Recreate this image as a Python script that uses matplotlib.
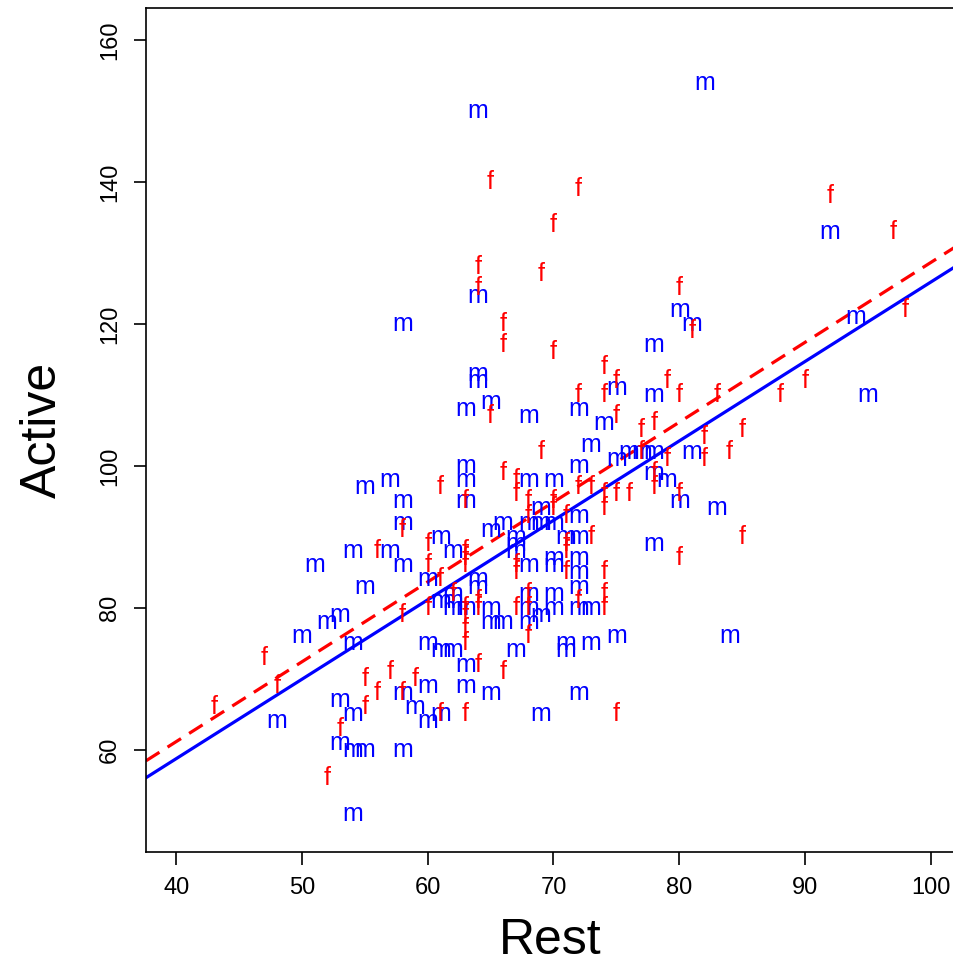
import matplotlib
matplotlib.use("Agg")
import matplotlib.pyplot as plt

plt.rcParams['font.family'] = ['Liberation Sans', 'DejaVu Sans']

# male pulse rates (Rest, Active)
male_rest = [82, 64, 64, 58, 80, 81, 78, 92, 94, 95, 64, 64, 75, 78, 63, 65, 68, 72, 74, 73,
             75, 76, 77, 78, 81, 63, 72, 63, 57, 55, 68, 70, 78, 79, 58, 63, 80, 83, 69, 58,
             61, 66, 65, 68, 69, 70, 72, 67, 67, 67, 71, 72, 70, 72, 72, 78, 62, 54, 57, 51,
             58, 60, 64, 68, 70, 72, 62, 61, 62, 63, 65, 68, 70, 68, 69, 70, 72, 73, 65, 66,
             68, 55, 53, 52, 50, 54, 60, 61, 62, 67, 71, 71, 73, 75, 84, 63, 60, 63, 65, 58,
             72, 59, 60, 61, 69, 53, 54, 48, 53, 54, 55, 58, 54, 64, 62]
male_active = [154, 150, 124, 120, 122, 120, 117, 133, 121, 110, 113, 112, 111, 110, 108, 109, 107, 108, 106, 103,
               101, 102, 102, 102, 102, 100, 100, 98, 98, 97, 98, 98, 99, 98, 95, 95, 95, 94, 94, 92,
               90, 92, 91, 92, 92, 92, 93, 90, 89, 88, 90, 90, 87, 87, 85, 89, 88, 88, 88, 86,
               86, 84, 84, 86, 86, 83, 82, 81, 80, 80, 80, 82, 82, 80, 79, 80, 80, 80, 78, 78,
               78, 83, 79, 78, 76, 75, 75, 74, 74, 74, 75, 74, 75, 76, 76, 72, 69, 69, 68, 68,
               68, 66, 64, 65, 65, 67, 65, 64, 61, 60, 60, 60, 51, 83, 81]

# female pulse rates (Rest, Active)
female_rest = [65, 72, 70, 64, 69, 64, 66, 66, 70, 80, 81, 92, 97, 98, 74, 75, 79, 72, 74, 80,
               83, 88, 90, 65, 75, 78, 77, 85, 82, 69, 77, 79, 82, 84, 66, 67, 78, 78, 80, 72,
               73, 74, 75, 76, 61, 63, 67, 68, 70, 74, 70, 68, 71, 58, 60, 56, 63, 63, 60, 63,
               71, 73, 71, 67, 67, 71, 74, 85, 80, 61, 62, 60, 58, 63, 64, 64, 63, 63, 63, 67,
               68, 68, 68, 72, 74, 74, 64, 66, 57, 59, 58, 61, 63, 75, 47, 48, 43, 55, 56, 55,
               53, 52]
female_active = [140, 139, 134, 128, 127, 125, 120, 117, 116, 125, 119, 138, 133, 122, 114, 112, 112, 110, 110, 110,
                 110, 110, 112, 107, 107, 106, 105, 105, 104, 102, 102, 101, 101, 102, 99, 98, 99, 97, 96, 97,
                 97, 96, 96, 96, 97, 95, 96, 95, 95, 94, 94, 93, 93, 91, 89, 88, 88, 87, 86, 86,
                 89, 90, 88, 86, 85, 85, 85, 90, 87, 84, 82, 80, 79, 80, 81, 80, 79, 77, 75, 80,
                 82, 80, 76, 81, 82, 80, 72, 71, 71, 70, 68, 65, 65, 65, 73, 69, 66, 70, 68, 66,
                 63, 56]

# fitted lines (intercept, slope)
male_fit = (13.99, 1.119)
female_fit = (16.15, 1.125)

fig = plt.figure(figsize=(9.54, 9.69), dpi=100)
ax = fig.add_axes([0.153, 0.1207, 0.847, 0.871])

for x, y in zip(male_rest, male_active):
    ax.text(x, y, 'm', color='blue', fontsize=18, ha='center', va='center')
for x, y in zip(female_rest, female_active):
    ax.text(x, y, 'f', color='red', fontsize=18, ha='center', va='center')

ax.axline((0, male_fit[0]), slope=male_fit[1], color='blue', lw=2.3)
ax.axline((0, female_fit[0]), slope=female_fit[1], color='red', lw=2.3,
          linestyle=(0, (5, 3)))

ax.set_xlim(37.6, 101.85)
ax.set_ylim(45.6, 164.5)
ax.set_xticks([40, 50, 60, 70, 80, 90, 100])
ax.set_yticks([60, 80, 100, 120, 140, 160])
ax.tick_params(labelsize=17, length=9, width=1.2, pad=9)
for lab in ax.get_yticklabels():
    lab.set_rotation(90)
    lab.set_va('center')
ax.spines['right'].set_visible(False)
for s in ['left', 'top', 'bottom']:
    ax.spines[s].set_linewidth(1.2)

ax.set_xlabel('Rest', fontsize=36, labelpad=14)
ax.set_ylabel('Active', fontsize=36, labelpad=24)

fig.savefig('out.png', dpi=100)
